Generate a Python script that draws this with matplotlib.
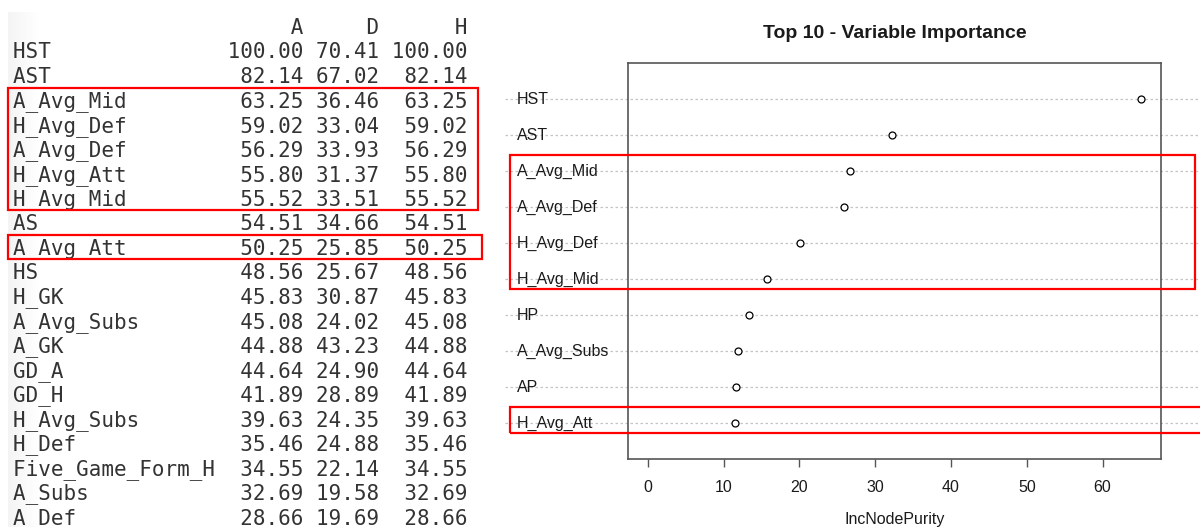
import matplotlib
matplotlib.use('Agg')
import matplotlib.pyplot as plt
import numpy as np
from matplotlib.patches import Rectangle
from matplotlib.transforms import blended_transform_factory

# Left: importance table (A / D / H)
table_vars = ['HST', 'AST', 'A_Avg_Mid', 'H_Avg_Def', 'A_Avg_Def', 'H_Avg_Att', 'H_Avg_Mid',
              'AS', 'A_Avg_Att', 'HS', 'H_GK', 'A_Avg_Subs', 'A_GK', 'GD_A', 'GD_H',
              'H_Avg_Subs', 'H_Def', 'Five_Game_Form_H', 'A_Subs', 'A_Def']
col_a = [100.00, 82.14, 63.25, 59.02, 56.29, 55.80, 55.52, 54.51, 50.25, 48.56,
         45.83, 45.08, 44.88, 44.64, 41.89, 39.63, 35.46, 34.55, 32.69, 28.66]
col_d = [70.41, 67.02, 36.46, 33.04, 33.93, 31.37, 33.51, 34.66, 25.85, 25.67,
         30.87, 24.02, 43.23, 24.90, 28.89, 24.35, 24.88, 22.14, 19.58, 19.69]
col_h = [100.00, 82.14, 63.25, 59.02, 56.29, 55.80, 55.52, 54.51, 50.25, 48.56,
         45.83, 45.08, 44.88, 44.64, 41.89, 39.63, 35.46, 34.55, 32.69, 28.66]
table_highlight = [('A_Avg_Mid', 'H_Avg_Mid'), ('A_Avg_Att', 'A_Avg_Att')]

# Right: top 10 variable importance (IncNodePurity)
top_vars = ['HST', 'AST', 'A_Avg_Mid', 'A_Avg_Def', 'H_Avg_Def', 'H_Avg_Mid',
            'HP', 'A_Avg_Subs', 'AP', 'H_Avg_Att']
top_vals = [65.1, 32.2, 26.7, 25.9, 20.1, 15.7, 13.3, 11.9, 11.6, 11.5]
chart_highlight = [('A_Avg_Mid', 'H_Avg_Mid'), ('H_Avg_Att', 'H_Avg_Att')]

W, H = 1200, 527
fig = plt.figure(figsize=(W / 100, H / 100), dpi=100)


def px(x):
    return x / W


def py(y):
    return 1 - y / H


# faint shadow at the left edge of the console screenshot
bg = fig.add_axes([px(8), 0, px(40) - px(8), py(12)])
grad = np.linspace(0, 1, 64)[None, :]
bg.imshow(grad, aspect='auto', cmap='Greys_r', vmin=-10, vmax=1)
bg.axis('off')

# table text, one line per row
mono = 'DejaVu Sans Mono'
row_y0, row_h = 26.5, 24.5
header = ' ' * 16 + ' ' + f"{'A':>6} {'D':>5} {'H':>6}"
fig.text(px(13), py(row_y0 + 7.5), header, family=mono, fontsize=15,
         color='#333333', va='baseline', ha='left')
for i, name in enumerate(table_vars):
    line = f"{name:<16} {col_a[i]:6.2f} {col_d[i]:5.2f} {col_h[i]:6.2f}"
    yc = row_y0 + (i + 1) * row_h
    fig.text(px(13), py(yc + 7.5), line, family=mono, fontsize=15,
             color='#333333', va='baseline', ha='left')

for first, last in table_highlight:
    i0, i1 = table_vars.index(first) + 1, table_vars.index(last) + 1
    top = row_y0 + i0 * row_h - row_h / 2
    bot = row_y0 + i1 * row_h + row_h / 2
    right = 478 if first != last else 482
    fig.patches.append(Rectangle((px(8), py(bot)), px(right) - px(8), (bot - top) / H,
                                 transform=fig.transFigure, fill=False,
                                 edgecolor='#ff0000', lw=1.6, zorder=10))

# dotchart
ax = fig.add_axes([px(628), py(459), px(1161) - px(628), (459 - 63) / H])
n = len(top_vars)
ys = np.arange(n, 0, -1)
trans = blended_transform_factory(ax.transAxes, ax.transData)
for y in ys:
    ax.plot([-0.23, 1.08], [y, y], transform=trans, clip_on=False,
            ls=(0, (2, 2)), color='#c4c4c4', lw=0.9, zorder=0)
for y, name in zip(ys, top_vars):
    ax.text((517 - 628) / 533, y, name, transform=trans, ha='left', va='center',
            family='Liberation Sans', fontsize=11.5, color='#1a1a1a')
ax.plot(top_vals, ys, 'o', mfc='white', mec='black', ms=5, mew=0.9, clip_on=False, zorder=3)

ax.set_xlim(-0.04 * max(top_vals), 1.04 * max(top_vals))
ax.set_ylim(0, n + 1)
ax.set_xticks(np.arange(0, 61, 10))
ax.set_yticks([])
for s in ax.spines.values():
    s.set_color('#555555')
    s.set_linewidth(1.2)
ax.tick_params(axis='x', direction='out', length=6, width=1, color='#555555',
               labelsize=11.5, labelcolor='#1a1a1a', pad=9)
for lab in ax.get_xticklabels():
    lab.set_family('Liberation Sans')
ax.set_xlabel('IncNodePurity', family='Liberation Sans', fontsize=11.5,
              color='#1a1a1a', labelpad=12.5)
ax.set_title('Top 10 - Variable Importance', family='Liberation Sans', fontsize=14,
             fontweight='bold', color='#1a1a1a', pad=18)

for first, last in chart_highlight:
    r0 = 63 + (n + 1 - ys[top_vars.index(first)]) * 36
    r1 = 63 + (n + 1 - ys[top_vars.index(last)]) * 36
    top, bot = r0 - 16, r1 + 10
    right = 1195 if first != last else 1205
    fig.patches.append(Rectangle((px(510), py(bot)), px(right) - px(510), (bot - top) / H,
                                 transform=fig.transFigure, fill=False,
                                 edgecolor='#ff0000', lw=1.6, zorder=10))

fig.savefig('out.png', dpi=100)
